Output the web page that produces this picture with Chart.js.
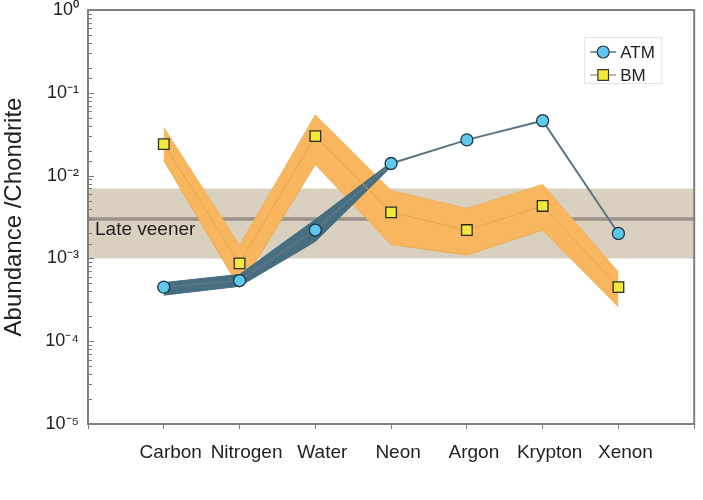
<!DOCTYPE html>
<html>
<head>
<meta charset="utf-8">
<script src="https://cdn.jsdelivr.net/npm/chart.js@4"></script>
<style>
  html, body { margin: 0; padding: 0; background: #fff; }
  #grafico { display: block; }
</style>
</head>
<body>
<canvas id="grafico" width="703" height="500"></canvas>
<script>
// dados (abundancia / condrito)
const elementos = ["Carbon", "Nitrogen", "Water", "Neon", "Argon", "Krypton", "Xenon"];
const atm = [4.5e-4, 5.4e-4, 2.2e-3, 0.014, 0.027, 0.046, 2.0e-3];
const bm = [0.024, 8.7e-4, 0.030, 3.6e-3, 2.2e-3, 4.3e-3, 4.5e-4];
const bmAlto = [0.038, 1.43e-3, 0.054, 6.6e-3, 4.0e-3, 7.8e-3, 6.8e-4];
const bmBaixo = [0.0152, 4.4e-4, 0.0136, 1.47e-3, 1.1e-3, 2.2e-3, 2.6e-4];
const atmAlto = [5.1e-4, 6.4e-4, 2.95e-3, 0.0145];
const atmBaixo = [3.6e-4, 4.6e-4, 1.6e-3, 0.0128];
const veenerAlto = 7.0e-3;
const veenerMedio = 3.0e-3;
const veenerBaixo = 1.0e-3;
const expoentes = [0, -1, -2, -3, -4, -5];

const FONTE = "'Liberation Sans', Arial, sans-serif";
const SUP = { "0": "\u2070", "1": "\u00b9", "2": "\u00b2", "3": "\u00b3", "4": "\u2074", "5": "\u2075", "-": "\u207b" };

function pontos(lista) {
    return lista.map((v, i) => ({ x: i + 1, y: v }));
}

function faixa(v) {
    return [{ x: 0, y: v }, { x: 8, y: v }];
}

const molduraPlugin = {
    id: "moldura",
    afterDatasetsDraw(chart) {
        const { ctx, chartArea: a } = chart;
        const y = chart.scales.y;
        ctx.save();

        // texto da faixa
        ctx.fillStyle = "#222";
        ctx.font = "19px " + FONTE;
        ctx.textBaseline = "middle";
        ctx.textAlign = "left";
        ctx.fillText("Late veener", a.left + 7, y.getPixelForValue(2.2e-3));

        // marcas do eixo y para dentro
        ctx.strokeStyle = "#777";
        ctx.lineWidth = 1;
        y.ticks.forEach(t => {
            const py = Math.round(y.getPixelForValue(t.value)) + 0.5;
            const maior = Math.abs(Math.log10(t.value) - Math.round(Math.log10(t.value))) < 1e-9;
            ctx.beginPath();
            ctx.moveTo(a.left, py);
            ctx.lineTo(a.left + (maior ? 6 : 4), py);
            ctx.stroke();
        });

        // moldura
        ctx.strokeStyle = "#808080";
        ctx.lineWidth = 2;
        ctx.strokeRect(a.left, a.top, a.right - a.left, a.bottom - a.top);

        // legenda
        const lx = a.right - 110, ly = a.top + 27;
        ctx.fillStyle = "#fff";
        ctx.fillRect(lx, ly, 77, 46);
        ctx.strokeStyle = "#e2e2e2";
        ctx.lineWidth = 1;
        ctx.strokeRect(lx + 0.5, ly + 0.5, 77, 46);

        const itens = [
            { nome: "ATM", cor: "#587685", forma: "circle", fundo: "#5ec8ee", r: 6 },
            { nome: "BM", cor: "#b9a070", forma: "rect", fundo: "#f3e83a", r: 7.5 }
        ];
        itens.forEach((it, i) => {
            const cy = ly + 15 + i * 23;
            ctx.strokeStyle = it.cor;
            ctx.lineWidth = 1.5;
            ctx.beginPath();
            ctx.moveTo(lx + 6, cy);
            ctx.lineTo(lx + 32, cy);
            ctx.stroke();
            ctx.fillStyle = it.fundo;
            ctx.strokeStyle = "#2b3a40";
            ctx.lineWidth = 1.2;
            Chart.helpers.drawPoint(ctx, { pointStyle: it.forma, radius: it.r, borderWidth: 1.2 }, lx + 19, cy);
            ctx.fillStyle = "#222";
            ctx.font = "17px " + FONTE;
            ctx.textAlign = "left";
            ctx.textBaseline = "middle";
            ctx.fillText(it.nome, lx + 36, cy + 1);
        });

        ctx.restore();
    }
};

const semPonto = { pointRadius: 0, pointHoverRadius: 0 };

new Chart(document.getElementById("grafico"), {
    type: "line",
    data: {
        datasets: [
            { label: "veenerAlto", data: faixa(veenerAlto), borderWidth: 0, fill: false, order: 20, ...semPonto },
            { label: "veenerBaixo", data: faixa(veenerBaixo), borderWidth: 0, fill: "-1", backgroundColor: "rgb(217,208,192)", order: 19, ...semPonto },
            { label: "veenerMedio", data: faixa(veenerMedio), borderWidth: 3.5, borderColor: "#9b9189", fill: false, order: 18, ...semPonto },
            { label: "bmAlto", data: pontos(bmAlto), borderWidth: 1, borderColor: "#eeaa50", fill: false, order: 17, ...semPonto },
            { label: "bmBaixo", data: pontos(bmBaixo), borderWidth: 1, borderColor: "#eeaa50", fill: "-1", backgroundColor: "#f8b65e", order: 16, ...semPonto },
            { label: "atmAlto", data: pontos(atmAlto), borderWidth: 1, borderColor: "#456c80", fill: false, order: 15, ...semPonto },
            { label: "atmBaixo", data: pontos(atmBaixo), borderWidth: 1, borderColor: "#456c80", fill: "-1", backgroundColor: "#476d81", order: 14, ...semPonto },
            {
                label: "BM", data: pontos(bm), borderWidth: 1, borderColor: "#eaa54a", fill: false, order: 2,
                pointStyle: "rect", pointRadius: 7.5, pointBackgroundColor: "#f3e83a", pointBorderColor: "#2b2b2b", pointBorderWidth: 1.3
            },
            {
                label: "ATM", data: pontos(atm), borderWidth: 2, borderColor: "#587685", fill: false, order: 1,
                pointStyle: "circle", pointRadius: 6, pointBackgroundColor: "#5ec8ee", pointBorderColor: "#1f3440", pointBorderWidth: 1.3
            }
        ]
    },
    options: {
        responsive: false,
        devicePixelRatio: 1,
        animation: false,
        layout: { padding: { top: 10, right: 8, left: 0, bottom: 0 } },
        plugins: {
            legend: { display: false },
            tooltip: { enabled: false }
        },
        scales: {
            x: {
                type: "linear",
                min: 0,
                max: 8,
                border: { display: false },
                grid: { display: true, drawOnChartArea: false, drawTicks: true, tickLength: 5, color: "#808080" },
                ticks: {
                    stepSize: 1,
                    autoSkip: false,
                    maxRotation: 0,
                    padding: 12,
                    labelOffset: 7,
                    color: "#222",
                    font: { family: FONTE, size: 19 },
                    callback: v => elementos[v - 1] || ""
                },
                afterFit: s => {
                    s.height = 76;
                    s.paddingLeft = 0;
                    s.paddingRight = 0;
                }
            },
            y: {
                type: "logarithmic",
                min: 1e-5,
                max: 1,
                border: { display: false },
                grid: { display: false, drawTicks: false },
                title: {
                    display: true,
                    text: "Abundance /Chondrite",
                    color: "#222",
                    font: { family: FONTE, size: 24 },
                    padding: 0
                },
                ticks: {
                    autoSkip: false,
                    padding: 9,
                    color: "#222",
                    font: { family: FONTE, size: 18 },
                    callback: v => {
                        const e = Math.round(Math.log10(v));
                        if (Math.abs(Math.log10(v) - e) > 1e-9 || !expoentes.includes(e)) return "";
                        return "10" + String(e).split("").map(c => SUP[c]).join("");
                    }
                },
                afterFit: s => {
                    s.width = 88;
                    s.paddingTop = 0;
                    s.paddingBottom = 0;
                }
            }
        }
    },
    plugins: [molduraPlugin]
});
</script>
</body>
</html>
